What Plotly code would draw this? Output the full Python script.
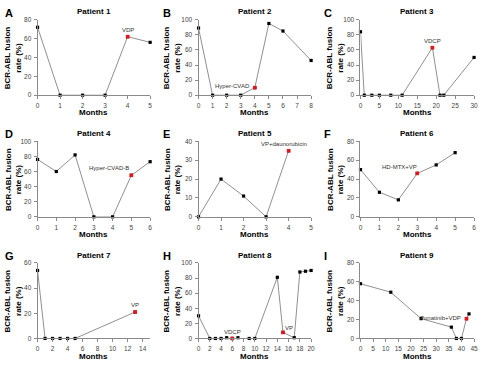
import plotly.graph_objects as go

# ---------------- data ----------------
titles = ["Patient 1", "Patient 2", "Patient 3", "Patient 4", "Patient 5",
          "Patient 6", "Patient 7", "Patient 8", "Patient 9"]
letters = ["A", "B", "C", "D", "E", "F", "G", "H", "I"]

p1_months = [0, 1, 2, 3, 4, 5]
p1_rate = [72, 0, 0, 0, 62, 56]
p2_months = [0, 1, 2, 3, 4, 5, 6, 8]
p2_rate = [89, 0, 0, 0, 10, 95, 85, 46]
p3_months = [0, 1, 3, 5, 8, 11, 19, 21, 22, 30]
p3_rate = [84, 0, 0, 0, 0, 0, 63, 0, 0, 50]
p4_months = [0, 1, 2, 3, 4, 5, 6]
p4_rate = [76, 60, 82, 0, 0, 55, 73]
p5_months = [0, 1, 2, 3, 4]
p5_rate = [0, 20, 11, 0, 35]
p6_months = [0, 1, 2, 3, 4, 5]
p6_rate = [50, 26, 18, 46, 55, 68]
p7_months = [0, 1, 2, 3, 4, 5, 13]
p7_rate = [54, 0, 0, 0, 0, 0, 21]
p8_months = [0, 2, 3, 4, 5, 6, 7, 9, 10, 14, 15, 17, 18, 19, 20]
p8_rate = [30, 0, 0, 0, 1, 0, 1, 0, 0, 81, 8, 1, 88, 89, 90]
p9_months = [0, 12, 24, 36, 38, 40, 42, 43]
p9_rate = [58, 49, 21, 12, 0, 0, 21, 26]

months = [p1_months, p2_months, p3_months, p4_months, p5_months,
          p6_months, p7_months, p8_months, p9_months]
rates = [p1_rate, p2_rate, p3_rate, p4_rate, p5_rate,
         p6_rate, p7_rate, p8_rate, p9_rate]

# treatment points (patient index, month, label)
treat_patient = [0, 1, 2, 3, 4, 5, 6, 7, 7, 8]
treat_month = [4, 4, 19, 5, 4, 3, 13, 6, 15, 42]
treat_label = ["VDP", "Hyper-CVAD", "VDCP", "Hyper-CVAD-B", "VP+daunorubicin",
               "HD-MTX+VP", "VP", "VDCP", "VP", "Ponatinib+VDP"]

x_max = [5, 8, 30, 6, 5, 6, 15, 20, 45]
x_dtick = [1, 1, 5, 1, 1, 1, 2, 2, 5]
x_tickmax = [5, 8, 30, 6, 5, 6, 14, 20, 45]
y_max = [80, 100, 100, 100, 40, 80, 60, 100, 80]
y_dtick = [20, 20, 20, 20, 10, 20, 20, 20, 20]

# ---------------- layout helpers ----------------
W, H = 483, 365
FONT = "Liberation Sans, Arial, sans-serif"
col_px = [(36, 150), (199, 313), (363, 478)]
row_px = [(16, 93), (140, 217), (264, 341)]
ytitle_x = [11, 172, 337]
letter_x = [1, 161, 324]


def px_x(p):
    return p / W


def px_y(p):
    return 1 - p / H


# annotation offsets for treatment labels (anchor, shift)
lab_style = [
    dict(xanchor="center", yanchor="bottom", xshift=0, yshift=2),
    dict(xanchor="right", yanchor="middle", xshift=-3, yshift=2),
    dict(xanchor="center", yanchor="bottom", xshift=0, yshift=2),
    dict(xanchor="right", yanchor="bottom", xshift=0, yshift=2),
    dict(xanchor="center", yanchor="bottom", xshift=-5, yshift=2),
    dict(xanchor="right", yanchor="bottom", xshift=2, yshift=1),
    dict(xanchor="center", yanchor="bottom", xshift=0, yshift=2),
    dict(xanchor="center", yanchor="bottom", xshift=0, yshift=1),
    dict(xanchor="left", yanchor="bottom", xshift=0, yshift=-1),
    dict(xanchor="right", yanchor="middle", xshift=-3, yshift=1),
]

fig = go.Figure()
annotations = []
layout_axes = {}

for i in range(9):
    r, c = divmod(i, 3)
    n = i + 1
    xa = "x" if n == 1 else f"x{n}"
    ya = "y" if n == 1 else f"y{n}"
    xkey = "xaxis" if n == 1 else f"xaxis{n}"
    ykey = "yaxis" if n == 1 else f"yaxis{n}"
    x0, x1 = col_px[c]
    y0, y1 = row_px[r]

    layout_axes[xkey] = dict(
        domain=[px_x(x0), px_x(x1)], anchor=ya, range=[0, x_max[i]],
        tickmode="array", tickvals=list(range(0, x_tickmax[i] + 1, x_dtick[i])),
        showline=True, linecolor="#8a8a8a", linewidth=1, ticks="outside",
        ticklen=3, tickcolor="#8a8a8a", showgrid=False, zeroline=False,
        tickfont=dict(size=6.5, color="#444", family=FONT), ticklabelstandoff=1,
    )
    layout_axes[ykey] = dict(
        domain=[px_y(y1), px_y(y0)], anchor=xa, range=[0, y_max[i]],
        tickmode="array", tickvals=list(range(0, y_max[i] + 1, y_dtick[i])),
        showline=True, linecolor="#8a8a8a", linewidth=1, ticks="outside",
        ticklen=3, tickcolor="#8a8a8a", showgrid=False, zeroline=False,
        tickfont=dict(size=6.5, color="#444", family=FONT), ticklabelstandoff=1,
    )

    fig.add_trace(go.Scatter(
        x=months[i], y=rates[i], xaxis=xa, yaxis=ya, mode="lines+markers",
        line=dict(color="#909090", width=1),
        marker=dict(symbol="square", size=3.2, color="black"),
        cliponaxis=False, showlegend=False, hoverinfo="x+y",
    ))

    # panel title
    annotations.append(dict(
        text=f"<b>{titles[i]}</b>", xref="paper", yref="paper",
        x=px_x((x0 + x1) / 2), y=px_y(y0 - 8), showarrow=False,
        xanchor="center", yanchor="middle",
        font=dict(size=8, color="black", family=FONT)))
    # letter
    annotations.append(dict(
        text=f"<b>{letters[i]}</b>", xref="paper", yref="paper",
        x=px_x(letter_x[c]), y=px_y(y0 - 7), showarrow=False,
        xanchor="left", yanchor="middle",
        font=dict(size=11, color="black", family=FONT)))
    # x title
    annotations.append(dict(
        text="<b>Months</b>", xref="paper", yref="paper",
        x=px_x((x0 + x1) / 2), y=px_y(y1 + 18), showarrow=False,
        xanchor="center", yanchor="middle",
        font=dict(size=8, color="black", family=FONT)))
    # y title
    annotations.append(dict(
        text="<b>BCR-ABL fusion<br>rate (%)</b>", xref="paper", yref="paper",
        x=px_x(ytitle_x[c]), y=px_y((y0 + y1) / 2), showarrow=False,
        xanchor="center", yanchor="middle", textangle=-90,
        font=dict(size=8, color="black", family=FONT)))

# treatment markers and labels
for k in range(len(treat_patient)):
    i = treat_patient[k]
    n = i + 1
    xa = "x" if n == 1 else f"x{n}"
    ya = "y" if n == 1 else f"y{n}"
    yv = rates[i][months[i].index(treat_month[k])]
    fig.add_trace(go.Scatter(
        x=[treat_month[k]], y=[yv], xaxis=xa, yaxis=ya, mode="markers",
        marker=dict(symbol="square", size=3.6, color="#e8141c"),
        cliponaxis=False, showlegend=False, hoverinfo="x+y",
    ))
    st = lab_style[k]
    annotations.append(dict(
        text=treat_label[k], xref=xa, yref=ya, x=treat_month[k], y=yv,
        showarrow=False, font=dict(size=6, color="#333", family=FONT), **st))

fig.update_layout(
    width=W, height=H, margin=dict(l=0, r=0, t=0, b=0),
    paper_bgcolor="white", plot_bgcolor="white",
    annotations=annotations, **layout_axes,
)

fig.write_html("out.html")
